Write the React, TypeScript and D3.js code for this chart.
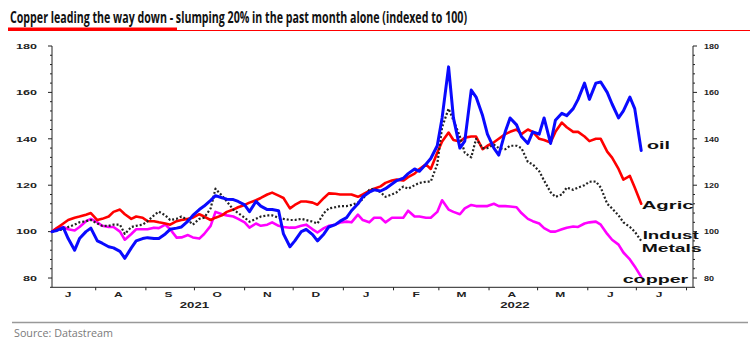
import React from 'react';
import * as d3 from 'd3';

const dates = [
  "2021-07-05","2021-07-08","2021-07-12","2021-07-15","2021-07-19","2021-07-22","2021-07-26","2021-07-29",
  "2021-08-02","2021-08-05","2021-08-09","2021-08-12","2021-08-16","2021-08-19","2021-08-23","2021-08-26","2021-08-30",
  "2021-09-02","2021-09-06","2021-09-09","2021-09-13","2021-09-16","2021-09-20","2021-09-23","2021-09-27","2021-09-30",
  "2021-10-04","2021-10-07","2021-10-11","2021-10-14","2021-10-18","2021-10-21","2021-10-25","2021-10-28",
  "2021-11-01","2021-11-04","2021-11-08","2021-11-11","2021-11-15","2021-11-18","2021-11-22","2021-11-25","2021-11-29",
  "2021-12-02","2021-12-06","2021-12-09","2021-12-13","2021-12-16","2021-12-20","2021-12-23","2021-12-27","2021-12-30",
  "2022-01-03","2022-01-06","2022-01-10","2022-01-13","2022-01-17","2022-01-20","2022-01-24","2022-01-27","2022-01-31",
  "2022-02-03","2022-02-07","2022-02-10","2022-02-14","2022-02-17","2022-02-21","2022-02-24","2022-02-28",
  "2022-03-03","2022-03-07","2022-03-10","2022-03-14","2022-03-17","2022-03-21","2022-03-24","2022-03-28","2022-03-31",
  "2022-04-04","2022-04-07","2022-04-11","2022-04-14","2022-04-18","2022-04-21","2022-04-25","2022-04-28",
  "2022-05-02","2022-05-05","2022-05-09","2022-05-12","2022-05-16","2022-05-19","2022-05-23","2022-05-26","2022-05-30",
  "2022-06-02","2022-06-06","2022-06-09","2022-06-13","2022-06-16","2022-06-20","2022-06-23","2022-06-27","2022-06-30",
  "2022-07-04"
];

const oil = [
  100,100.5,101.7,97,92,97,100,101.5,96,95,
  93.5,93,91.5,88.5,93,96,97,97.4,97,97,
  99,101,101.5,102,104.5,107,109.5,111,113.5,115.5,
  114.6,114,113.8,113,111.5,108.6,113,111,109.5,109.5,
  109,99,93.5,96,100,101,98.7,96,99,102,
  103,104.5,106,109,112,115,117,118,117.5,118.5,
  120.5,122,123,125,127,126,129,131.5,137,149,
  171,149,136,139,161,158,150,142,136,133,
  143,149,146,141,138,143,142,149,138,148,
  151,150,153,157,164,157,164,164.5,160,155,
  149,152,158,153,135
];

const agric = [
  100,101.5,103.5,105,106,106.5,107.3,108,105,105.5,
  106.5,108.5,109.5,107.5,105.5,106.5,106,104.5,104.5,104,
  103.5,103,104.5,105,105.5,106,107.5,106.5,105,106,
  107,108.5,109.5,110.5,111.5,112.5,113.5,114.5,116,116.8,
  115.5,114.5,110,111.5,113,113,112.5,111.6,114.5,116.5,
  116.3,116,116,116,115,116,117.5,118.5,119.5,121,
  122,122.4,122,123.5,125,127,129,127,134,138.8,
  142.7,139.5,138.8,140.5,141,141,135.5,137,138.5,140,
  142,143,144,142,144,143,140,139.5,138.4,143,
  147,145,143,143,141,139,140,140,134.5,131.9,
  127,122.4,124,119,112
];

const industMetals = [
  100,100.5,101,102,103,104,104.5,105,103.5,102.5,
  102.5,103,103,99,102,102.5,103,104.5,107,108.6,
  107,105,105.5,106.5,105,103,105.5,106,110,118.5,
  115.5,113,109.5,108,106,104.3,105.5,106.5,107,107,
  106,105.5,105,105,105.5,105,104.3,103.5,108,110,
  110.5,111,111,111.5,112.5,114,118,118.5,117,115,
  116,117,119.4,118.5,120,121,121.5,121.6,129,145,
  153,148,141,134,132,140,136,136,137.5,136,
  135.5,137,137,136,130,129,126,122,117,115,
  116,119,118,119,120,121.5,121.6,119,112,110,
  107,104,102,100,96
];

const copper = [
  100,101.5,102,101,100.5,102,104.5,105.5,104,102.5,
  102,102,100,96.5,99,101,101,101,101.7,101.5,
  103,101,97.4,97.5,98.5,97.5,97,99,102.5,108.5,
  107.5,107,106.5,105.5,104,101.7,103.5,102.5,103,104,
  102.5,102,101.7,101.7,102.5,103,101,99.6,101.5,102.5,
  103,103.9,104.3,104,107.3,105,104,106,106,104,
  106,106,106,109,106.5,106.5,106,106,108.5,113.5,
  109.5,108.5,107.5,110,111.5,111,111,111,112,111,
  111,110.8,110.5,108,105.5,104.5,103.5,101.5,100,100,
  101,101.7,102.2,102,103.5,104,104.3,103,99,96.5,
  94.4,91,88,85,80.5
];

const yMajorTicks = [80, 100, 120, 140, 160, 180];
const monthLetters = ['J','A','S','O','N','D','J','F','M','A','M','J','J'];
const yearLabels = ['2021', '2022'];
const yearAnchorDates = ['2021-10-01', '2022-04-17'];

const titleText = 'Copper leading the way down - slumping 20% in the past month alone (indexed to 100)';
const sourceText = 'Source: Datastream';

export default function App() {
  const parse = d3.timeParse('%Y-%m-%d');
  const xs = dates.map(d => parse(d) as Date);
  const x = d3.scaleTime()
    .domain([parse('2021-07-05') as Date, parse('2022-08-05') as Date])
    .range([52, 693]);
  const y = d3.scaleLinear().domain([76, 180]).range([287.3, 46]);

  const line = d3.line<number>()
    .x((_, i) => x(xs[i]))
    .y(d => y(d));

  const series = [
    { key: 'copper', values: copper, color: '#ff00ff', width: 2.6, dash: undefined as string | undefined },
    { key: 'agric', values: agric, color: '#ff0000', width: 2.6, dash: undefined },
    { key: 'indust', values: industMetals, color: '#222222', width: 2.2, dash: '2 2' },
    { key: 'oil', values: oil, color: '#0a0aff', width: 3, dash: undefined },
  ];

  const minorTicks = d3.range(76, 181, 4);
  const monthTicks = d3.timeMonth.range(new Date(2021, 7, 1), new Date(2022, 7, 2));
  const monthStarts = d3.timeMonth.range(new Date(2021, 6, 1), new Date(2022, 7, 1));
  const x0 = 52, x1 = 693, yBottom = y(76), yTop = y(180);
  const axisFont = "'Liberation Sans', Arial, sans-serif";

  return (
    <svg width={752} height={349} style={{ position: 'absolute', left: 0, top: 0, background: '#fff' }}
      xmlns="http://www.w3.org/2000/svg">
      <rect x={0} y={0} width={752} height={349} fill="#ffffff" />
      {/* Title */}
      <text x={10} y={23} fontFamily="'Liberation Sans Narrow', 'Open Sans', sans-serif" fontWeight={700}
        fontSize={16} fill="#111" textLength={457} lengthAdjust="spacingAndGlyphs">{titleText}</text>
      <rect x={8} y={27.5} width={169} height={3.5} fill="#ff0000" />
      <line x1={177} x2={750} y1={30.5} y2={30.5} stroke="#ff0000" strokeWidth={1} />

      {/* Axes */}
      <line x1={x0} x2={x0} y1={yTop} y2={yBottom} stroke="#222" strokeWidth={1} />
      <line x1={x1} x2={x1} y1={yTop} y2={yBottom} stroke="#222" strokeWidth={1} />
      <line x1={x0} x2={x1} y1={yBottom} y2={yBottom} stroke="#222" strokeWidth={1} />
      {minorTicks.map(t => {
        const major = t % 20 === 0;
        const len = major ? 4 : 2;
        return (
          <g key={'yt' + t}>
            <line x1={x0 - len} x2={x0} y1={y(t)} y2={y(t)} stroke="#222" strokeWidth={1} />
            <line x1={x1} x2={x1 + len} y1={y(t)} y2={y(t)} stroke="#222" strokeWidth={1} />
          </g>
        );
      })}
      {yMajorTicks.map(t => (
        <g key={'yl' + t} fontFamily={axisFont} fontWeight={700} fontSize={7.5} fill="#222">
          <text x={37} y={y(t) + 2.8} textAnchor="end" textLength={t >= 100 ? 21 : 14}
            lengthAdjust="spacingAndGlyphs">{t}</text>
          <text x={704} y={y(t) + 2.8} textAnchor="start" textLength={t >= 100 ? 15 : 10}
            lengthAdjust="spacingAndGlyphs">{t}</text>
        </g>
      ))}
      {monthTicks.map((d, i) => (
        <line key={'xt' + i} x1={x(d)} x2={x(d)} y1={yBottom} y2={yBottom + 3} stroke="#222" strokeWidth={1} />
      ))}
      {monthStarts.map((d, i) => {
        const cx = x(d3.timeDay.offset(d, 14));
        return (
          <text key={'ml' + i} transform={`translate(${cx},297.3) scale(1.5,1)`} textAnchor="middle"
            fontFamily={axisFont} fontWeight={700} fontSize={8} fill="#222">{monthLetters[i]}</text>
        );
      })}
      {yearLabels.map((lab, i) => (
        <text key={'yr' + i} transform={`translate(${x(parse(yearAnchorDates[i]) as Date)},307.5) scale(1.55,1)`}
          textAnchor="middle" fontFamily={axisFont} fontWeight={700} fontSize={8.5} fill="#222">{lab}</text>
      ))}

      {/* Series */}
      {series.map(s => (
        <path key={s.key} d={line(s.values) || ''} fill="none" stroke={s.color} strokeWidth={s.width}
          strokeDasharray={s.dash} strokeLinejoin="round" strokeLinecap={s.dash ? 'butt' : 'round'} />
      ))}

      {/* Series labels */}
      <g fontFamily={axisFont} fontWeight={700} fontSize={11.5} fill="#111">
        <text x={647} y={149.3} textLength={23} lengthAdjust="spacingAndGlyphs">oil</text>
        <text x={641.7} y={209.3} textLength={52} lengthAdjust="spacingAndGlyphs">Agric</text>
        <text x={642.7} y={239} textLength={56} lengthAdjust="spacingAndGlyphs">Indust</text>
        <text x={641.7} y={251.7} textLength={60} lengthAdjust="spacingAndGlyphs">Metals</text>
        <text x={622.7} y={282.7} textLength={65.6} lengthAdjust="spacingAndGlyphs">copper</text>
      </g>

      {/* Source */}
      <line x1={12} x2={748} y1={322.5} y2={322.5} stroke="#999" strokeWidth={1.5} />
      <text x={14} y={336.5} fontFamily="'Open Sans', sans-serif" fontSize={11.5} fill="#7a7a7a"
        textLength={99} lengthAdjust="spacingAndGlyphs">{sourceText}</text>
    </svg>
  );
}
